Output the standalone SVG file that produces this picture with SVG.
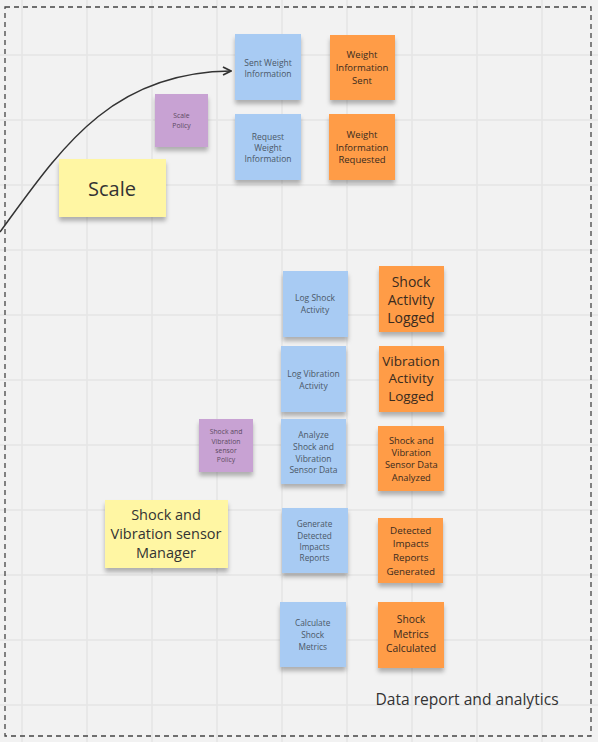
<svg xmlns="http://www.w3.org/2000/svg" width="598" height="742" viewBox="0 0 598 742">
<defs>
<style>
.grid{stroke:#e5e5e5;stroke-width:1.5}
.note{filter:url(#sh)}
.blue{fill:#a8cbf3}
.orange{fill:#ff9c47}
.purple{fill:#c8a2d3}
.yellow{fill:#fff6a3}
text{font-family:"Open Sans","Noto Sans","Liberation Sans",sans-serif;text-anchor:middle;dominant-baseline:central}
.tb{fill:#4b5868}
.to{fill:#3a2b1e}
.tp{fill:#5c4a62}
.ty{fill:#333333}
</style>
<filter id="sh" x="-20%" y="-20%" width="140%" height="150%">
<feDropShadow dx="0" dy="4" stdDeviation="2" flood-color="#000" flood-opacity="0.28"/>
</filter>
<marker id="ah" viewBox="0 0 10 10" refX="9" refY="5" markerWidth="10" markerHeight="10" markerUnits="userSpaceOnUse" orient="auto">
<path d="M1,1 L9,5 L1,9" fill="none" stroke="#333" stroke-width="1.8"/>
</marker>
</defs>
<rect width="598" height="742" fill="#f2f2f2"/>
<g id="grid">
<path class="grid" d="M22,0V742M87,0V742M152,0V742M217,0V742M282,0V742M347,0V742M412,0V742M477,0V742M542,0V742M0,55H598M0,120H598M0,185H598M0,250H598M0,315H598M0,380H598M0,445H598M0,510H598M0,575H598M0,640H598M0,705H598"/>
</g>
<g id="frame">
<rect x="5" y="7" width="586" height="729" fill="none" stroke="#444" stroke-width="1.3" stroke-dasharray="5,4"/>
<text x="467" y="699" font-size="15.6" class="ty">Data report and analytics</text>
</g>
<g id="connectors">
<path d="M0,232 C60,150 110,72 231,71" fill="none" stroke="#333" stroke-width="1.5" marker-end="url(#ah)"/>
</g>
<g id="scale">
<rect class="note yellow" x="59" y="159" width="107" height="58"/>
<text x="112" y="188" font-size="20" class="ty">Scale</text>
</g>
<g id="scale-policy">
<rect class="note purple" x="155" y="94" width="53" height="53"/>
<text font-size="6.8" class="tp"><tspan x="181.5" y="114.5">Scale</tspan><tspan x="181.5" y="124.5">Policy</tspan></text>
</g>
<g id="sent-weight-information">
<rect class="note blue" x="235" y="34" width="66" height="66"/>
<text font-size="8.5" class="tb"><tspan x="268" y="61.7">Sent Weight</tspan><tspan x="268" y="73.3">Information</tspan></text>
</g>
<g id="weight-information-sent">
<rect class="note orange" x="330" y="35" width="65" height="65"/>
<text font-size="9.5" class="to"><tspan x="362" y="53.7">Weight</tspan><tspan x="362" y="66.7">Information</tspan><tspan x="362" y="80">Sent</tspan></text>
</g>
<g id="request-weight-information">
<rect class="note blue" x="235" y="114" width="66" height="66"/>
<text font-size="8.5" class="tb"><tspan x="268" y="135.7">Request</tspan><tspan x="268" y="147">Weight</tspan><tspan x="268" y="158.3">Information</tspan></text>
</g>
<g id="weight-information-requested">
<rect class="note orange" x="329" y="114" width="66" height="66"/>
<text font-size="9.5" class="to"><tspan x="362" y="133.7">Weight</tspan><tspan x="362" y="146.5">Information</tspan><tspan x="362" y="158.5">Requested</tspan></text>
</g>
<g id="log-shock-activity">
<rect class="note blue" x="283" y="271" width="65" height="66"/>
<text font-size="8.5" class="tb"><tspan x="315" y="297">Log Shock</tspan><tspan x="315" y="309.3">Activity</tspan></text>
</g>
<g id="shock-activity-logged">
<rect class="note orange" x="379" y="266" width="65" height="66"/>
<text font-size="14" class="to"><tspan x="411" y="280.7">Shock</tspan><tspan x="411" y="299">Activity</tspan><tspan x="411" y="317.3">Logged</tspan></text>
</g>
<g id="log-vibration-activity">
<rect class="note blue" x="281" y="346" width="65" height="66"/>
<text font-size="8.5" class="tb"><tspan x="313.5" y="373">Log Vibration</tspan><tspan x="313.5" y="384.6">Activity</tspan></text>
</g>
<g id="vibration-activity-logged">
<rect class="note orange" x="379" y="346" width="65" height="66"/>
<text font-size="13.5" class="to"><tspan x="411" y="361">Vibration</tspan><tspan x="411" y="378.3">Activity</tspan><tspan x="411" y="395.7">Logged</tspan></text>
</g>
<g id="shock-vibration-policy">
<rect class="note purple" x="199" y="419" width="54" height="53"/>
<text font-size="6.8" class="tp"><tspan x="226" y="430.7">Shock and</tspan><tspan x="226" y="440.5">Vibration</tspan><tspan x="226" y="450">sensor</tspan><tspan x="226" y="459.3">Policy</tspan></text>
</g>
<g id="analyze-sensor-data">
<rect class="note blue" x="281" y="419" width="65" height="65"/>
<text font-size="8.5" class="tb"><tspan x="313.5" y="434.3">Analyze</tspan><tspan x="313.5" y="446">Shock and</tspan><tspan x="313.5" y="457.5">Vibration</tspan><tspan x="313.5" y="469.3">Sensor Data</tspan></text>
</g>
<g id="sensor-data-analyzed">
<rect class="note orange" x="378" y="426" width="66" height="65"/>
<text font-size="9.3" class="to"><tspan x="411.3" y="440">Shock and</tspan><tspan x="411.3" y="452.3">Vibration</tspan><tspan x="411.3" y="464.3">Sensor Data</tspan><tspan x="411.3" y="476.7">Analyzed</tspan></text>
</g>
<g id="shock-vibration-manager">
<rect class="note yellow" x="105" y="500" width="123" height="68"/>
<text font-size="14.5" class="ty"><tspan x="166" y="514">Shock and</tspan><tspan x="166" y="533.3">Vibration sensor</tspan><tspan x="166" y="552.3">Manager</tspan></text>
</g>
<g id="generate-reports">
<rect class="note blue" x="282" y="508" width="66" height="65"/>
<text font-size="8.2" class="tb"><tspan x="314.5" y="523.3">Generate</tspan><tspan x="314.5" y="534.5">Detected</tspan><tspan x="314.5" y="546">Impacts</tspan><tspan x="314.5" y="557.3">Reports</tspan></text>
</g>
<g id="reports-generated">
<rect class="note orange" x="378" y="518" width="65" height="65"/>
<text font-size="9.8" class="to"><tspan x="410.7" y="530">Detected</tspan><tspan x="410.7" y="543.3">Impacts</tspan><tspan x="410.7" y="557">Reports</tspan><tspan x="410.7" y="570.7">Generated</tspan></text>
</g>
<g id="calculate-shock-metrics">
<rect class="note blue" x="280" y="602" width="66" height="65"/>
<text font-size="8.3" class="tb"><tspan x="312.7" y="622">Calculate</tspan><tspan x="312.7" y="634">Shock</tspan><tspan x="312.7" y="646">Metrics</tspan></text>
</g>
<g id="shock-metrics-calculated">
<rect class="note orange" x="378" y="602" width="66" height="66"/>
<text font-size="10.3" class="to"><tspan x="411" y="619.3">Shock</tspan><tspan x="411" y="634.3">Metrics</tspan><tspan x="411" y="648">Calculated</tspan></text>
</g>
</svg>
